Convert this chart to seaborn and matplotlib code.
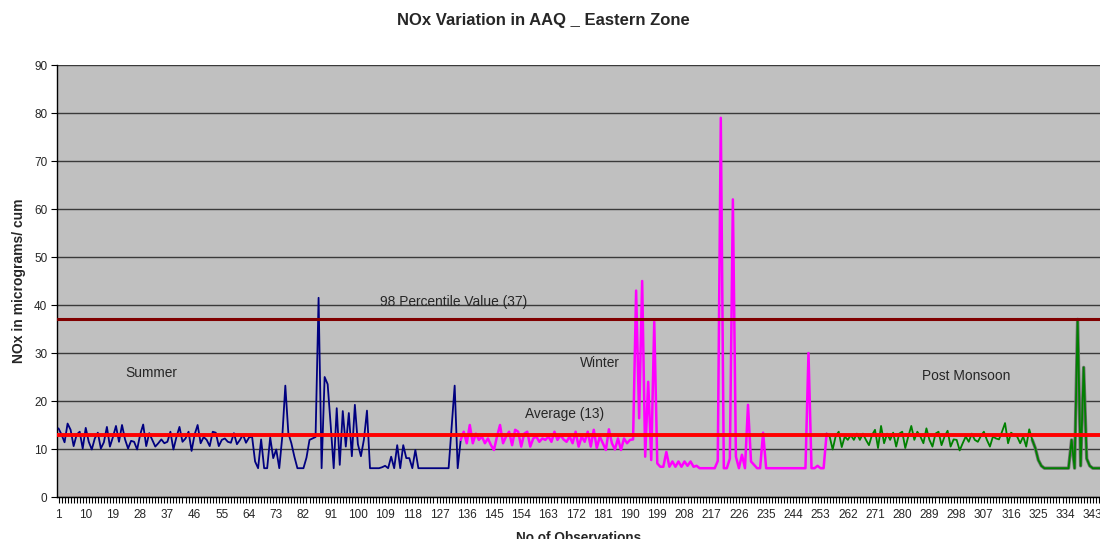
import matplotlib
matplotlib.use("Agg")
import matplotlib.pyplot as plt
from matplotlib.ticker import MultipleLocator, FixedLocator
import seaborn as sns
import pandas as pd

# ---------------- data ----------------
title = "NOx Variation in AAQ _ Eastern Zone"
x_label = "No of Observations"
y_label = "NOx in micrograms/ cum"

summer_start = 1
summer_nox = [
    14.3, 13.0, 11.4, 15.3, 14.0, 10.6, 13.0, 13.6, 10.1, 14.4,
    11.5, 9.9, 12.2, 13.4, 10.1, 11.4, 14.6, 10.5, 12.5, 14.8,
    11.5, 15.0, 12.0, 10.1, 11.7, 11.5, 9.9, 13.0, 15.1, 10.6,
    13.3, 11.9, 10.5, 11.2, 12.0, 11.2, 11.5, 13.6, 9.9, 12.5,
    14.6, 11.5, 12.2, 13.6, 9.6, 13.0, 15.0, 11.2, 12.5, 11.9,
    10.6, 13.6, 13.4, 10.6, 11.9, 12.2, 11.5, 11.3, 13.3, 11.0,
    11.9, 13.0, 11.3, 12.4, 12.6, 7.4, 6.0, 12.0, 6.0, 6.0,
    12.4, 8.1, 9.9, 6.0, 12.6, 23.2, 13.3, 11.2, 8.4, 6.0,
    6.0, 6.0, 8.2, 11.9, 12.2, 12.5, 41.5, 6.0, 25.0, 23.5,
    15.0, 6.0, 18.5, 6.7, 17.9, 10.5, 17.5, 8.5, 19.2, 11.0,
    8.5, 12.0, 18.0, 6.0, 6.0, 6.0, 6.0, 6.2, 6.5, 6.0,
    8.4, 6.0, 10.8, 6.0, 10.8, 8.1, 8.1, 6.0, 9.8, 6.0,
    6.0, 6.0, 6.0, 6.0, 6.0, 6.0, 6.0, 6.0, 6.0, 6.0,
    14.5, 23.2, 6.0, 11.9,
]

winter_start = 134
winter_nox = [
    11.9, 13.6, 11.2, 15.0, 11.2, 13.2, 11.9, 12.6, 11.2, 12.2,
    10.8, 9.8, 12.6, 15.0, 11.2, 12.6, 13.6, 10.8, 14.0, 13.6,
    10.5, 13.2, 13.6, 10.5, 12.2, 12.6, 11.5, 12.2, 11.9, 12.6,
    11.5, 13.6, 11.9, 12.9, 12.0, 11.5, 12.6, 11.2, 13.6, 10.5,
    12.6, 11.5, 13.6, 10.5, 14.0, 10.2, 12.6, 11.2, 9.8, 14.1,
    11.2, 9.9, 12.2, 9.8, 12.2, 11.2, 11.9, 12.0, 43.0, 16.4,
    45.0, 8.4, 24.0, 7.7, 36.5, 7.0, 6.3, 6.3, 9.4, 6.3,
    7.4, 6.3, 7.4, 6.3, 7.4, 6.5, 7.4, 6.3, 6.5, 6.0,
    6.0, 6.0, 6.0, 6.0, 6.0, 7.5, 79.0, 6.0, 6.0, 8.0,
    62.0, 8.4, 6.0, 8.8, 6.0, 19.2, 7.4, 6.7, 6.0, 6.0,
    13.4, 6.0, 6.0, 6.0, 6.0, 6.0, 6.0, 6.0, 6.0, 6.0,
    6.0, 6.0, 6.0, 6.0, 6.0, 30.0, 6.0, 6.0, 6.5, 6.0,
    6.0, 13.2,
]

post_monsoon_start = 255
post_monsoon_nox = [
    13.2, 12.6, 9.9, 12.7, 13.6, 10.4, 12.6, 11.9, 12.9, 11.9,
    13.2, 11.9, 13.2, 11.9, 10.8, 12.9, 14.0, 10.2, 14.8, 11.2,
    13.2, 11.9, 13.4, 10.5, 13.2, 13.6, 10.2, 12.6, 14.8, 11.9,
    13.6, 12.6, 11.2, 14.3, 11.9, 10.5, 13.2, 13.6, 10.8, 12.6,
    13.8, 10.5, 12.0, 11.9, 9.7, 11.2, 12.6, 11.5, 13.2, 11.9,
    11.5, 12.7, 13.6, 11.9, 10.5, 12.6, 12.2, 12.0, 13.6, 15.4,
    11.2, 13.4, 12.9, 12.6, 11.2, 12.6, 10.5, 14.1, 11.9, 10.2,
    7.7, 6.5, 6.0, 6.0, 6.0, 6.0, 6.0, 6.0, 6.0, 6.0,
    6.0, 11.9, 6.0, 37.0, 6.5, 27.0, 8.0, 6.5, 6.0, 6.0,
    6.0, 6.0,
]

percentile_98 = 37
average = 13
season_labels = ["Summer", "Winter", "Post Monsoon"]
x_tick_labels = list(range(1, 346, 9))


def season_frame(start, values, name):
    return pd.DataFrame({"obs": range(start, start + len(values)),
                         "nox": values, "season": name})


df = pd.concat([
    season_frame(summer_start, summer_nox, "Summer"),
    season_frame(winter_start, winter_nox, "Winter"),
    season_frame(post_monsoon_start, post_monsoon_nox, "Post Monsoon"),
], ignore_index=True)

# ---------------- style ----------------
sns.set_style("white")
plt.rcParams["font.family"] = ["Liberation Sans", "DejaVu Sans"]

W, H = 1100, 539
fig = plt.figure(figsize=(W / 100, H / 100), dpi=100)
ax = fig.add_axes([57 / W, 42 / H, 1 - 57 / W, 432 / H])
ax.set_facecolor("#C0C0C0")

palette = {"Summer": "#000080", "Winter": "#FF00FF", "Post Monsoon": "#008000"}

# grey shadow line under the post-monsoon tail
tail = df[(df.season == "Post Monsoon") & (df.obs >= 323)]
sns.lineplot(data=tail, x="obs", y="nox", color="#707070", lw=2.4,
             ax=ax, zorder=2.5, legend=False)

for s in season_labels:
    sns.lineplot(data=df[df.season == s], x="obs", y="nox", color=palette[s],
                 lw=1.3 if s != "Winter" else 1.8, ax=ax, zorder=3,
                 legend=False)

ax.axhline(percentile_98, color="#800000", lw=2.2, zorder=4)
ax.axhline(average, color="#FF0000", lw=2.8, zorder=4)

ax.set_xlim(0.5, 345.4)
ax.set_ylim(0, 90)
ax.yaxis.set_major_locator(MultipleLocator(10))
ax.grid(axis="y", color="#3a3a3a", lw=1.0, zorder=1)
ax.grid(axis="x", visible=False)
ax.set_axisbelow(True)

ax.xaxis.set_major_locator(FixedLocator(x_tick_labels))
ax.set_xticklabels([str(v) for v in x_tick_labels])
ax.xaxis.set_minor_locator(MultipleLocator(1))
ax.tick_params(axis="x", which="both", direction="out", length=4, width=0.8,
               color="black", labelsize=8.5, pad=5, bottom=True)
ax.tick_params(axis="y", which="major", direction="out", length=4, width=0.8,
               color="black", labelsize=8.5, pad=3, left=True)

for side in ["top", "right"]:
    ax.spines[side].set_visible(False)
for side in ["left", "bottom"]:
    ax.spines[side].set_color("black")
    ax.spines[side].set_linewidth(1.0)

ax.set_xlabel(x_label, fontsize=9.8, fontweight="bold", labelpad=7)
ax.set_ylabel(y_label, fontsize=10, fontweight="bold", labelpad=6)

fig.text(543 / W, 1 - 20 / H, title, ha="center", va="center",
         fontsize=12, fontweight="bold")

ax.text(107.3, 40.6, "98 Percentile Value (37)", fontsize=9.9, va="center")
ax.text(23.1, 25.8, "Summer", fontsize=9.9, va="center")
ax.text(173.4, 27.9, "Winter", fontsize=9.9, va="center")
ax.text(155.3, 17.3, "Average (13)", fontsize=9.9, va="center")
ax.text(286.6, 25.2, "Post Monsoon", fontsize=9.9, va="center")

fig.savefig("out.png", dpi=100)
